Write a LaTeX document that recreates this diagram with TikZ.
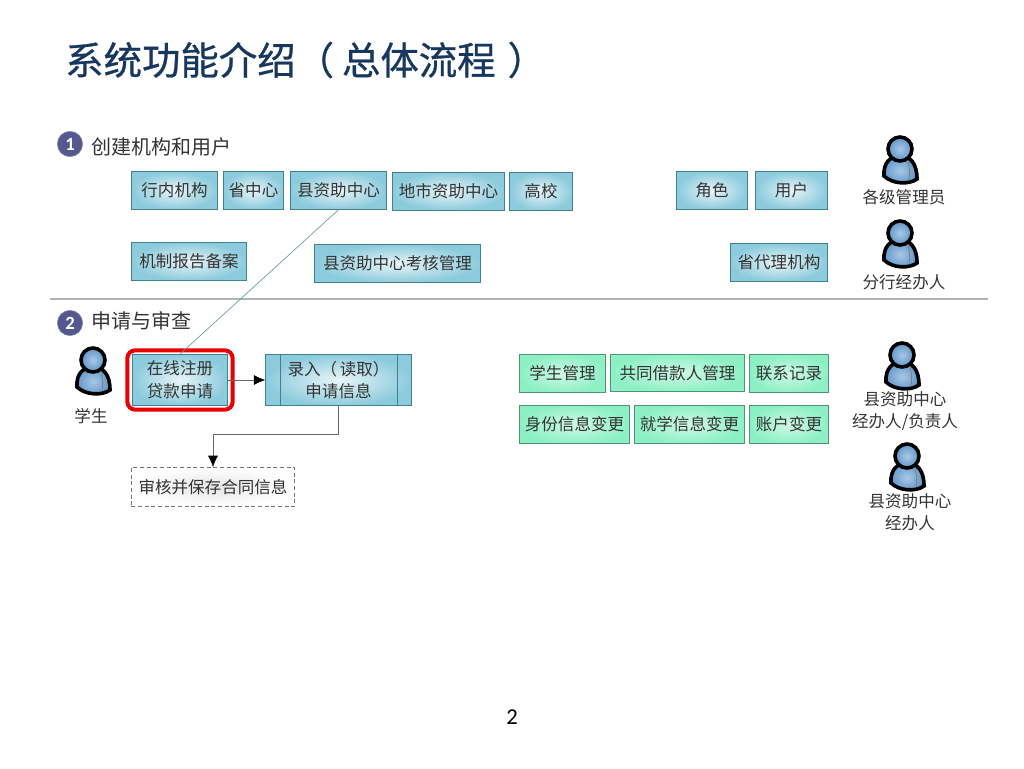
\documentclass[tikz,border=0pt]{standalone}
\usepackage{fontspec}
\setmainfont[Kerning=Off]{Noto Sans CJK SC}
\newfontfamily\titlefont[Kerning=Off,FakeBold=0.7]{Noto Sans CJK SC}
\newfontfamily\numfont{Carlito}
\usetikzlibrary{arrows.meta}
\definecolor{titleblue}{HTML}{17375E}
\definecolor{labelgrey}{HTML}{333333}
\definecolor{bluefill}{HTML}{8CCBDC}
\definecolor{blueedge}{HTML}{41808F}
\definecolor{greenfill}{HTML}{8CF0C4}
\definecolor{greenedge}{HTML}{4F9477}
\definecolor{badgeblue}{HTML}{55588F}
\definecolor{personin}{HTML}{A9C8E6}
\definecolor{personout}{HTML}{5F95C8}
\tikzset{
 bluebox/.style={draw=blueedge,shading=radial,inner color=white!80!bluefill,outer color=bluefill,
  inner sep=0pt,text=labelgrey,font=\fontsize{12.4}{17}\selectfont,align=center},
 greenbox/.style={bluebox,draw=greenedge,inner color=white!60!greenfill,outer color=greenfill},
 badge/.style={circle,fill=badgeblue,draw=badgeblue!70,text=white,minimum size=19pt,inner sep=0pt,
  font=\numfont\bfseries\fontsize{14}{14}\selectfont},
 heading/.style={anchor=west,inner sep=0pt,text=labelgrey,font=\fontsize{15}{18}\selectfont},
 rolelabel/.style={inner sep=0pt,text=labelgrey,align=center,font=\fontsize{12.4}{16.5}\selectfont},
 flow/.style={draw=black!60,-{Latex[black,length=8.5pt,width=7.5pt]}},
 person/.pic={
  \draw[line width=2.7pt,inner color=personin,outer color=personout,shading=radial]
   (-16,16) .. controls (-17,2) and (-9,-4) .. (0,-4) .. controls (10,-4) and (17,3) .. (17,19)
   .. controls (9,25) and (-8,24) .. (-16,16) -- cycle;
  \draw[line width=2.7pt,inner color=personin,outer color=personout,shading=radial]
   (0,-11) circle (12);
  \draw[black!50,line width=.6pt] (8,2) .. controls (10,8) and (10,14) .. (9,20);
 }
}
\begin{document}
\begin{tikzpicture}[x=0.75pt,y=-0.75pt]
\useasboundingbox (0,0) rectangle (1024,768);

\node[anchor=west,inner sep=0pt,text=titleblue,font=\titlefont\fontsize{28.8}{32}\selectfont] (title) at (65,60) {系统功能介绍（\kern6pt 总体流程\kern9pt ）};
\node[inner sep=0pt,font=\numfont\fontsize{17}{20}\selectfont] (pageno) at (512,717) {2};
%
\node[badge] (badgeone) at (70,144) {1};
\node[heading] (headone) at (91,147) {创建机构和用户};
\node[badge] (badgetwo) at (70,323) {2};
\node[heading] (headtwo) at (91,321) {申请与审查};
%
\coordinate (ruleleft) at (50,299);
\coordinate (ruleright) at (988,299);
\draw[black!30,line width=.9pt] (ruleleft) -- (ruleright);
%
\foreach \n/\xa/\xb/\ya/\yb/\t in {
 inner/131/218/171/210/行内机构,province/223/284/171/210/省中心,county/290/387/171/210/县资助中心,
 city/392/505/172/211/地市资助中心,college/509/573/172/211/高校,role/676/748/171/210/角色,
 user/755/828/171/210/用户,report/131/247/242/281/机制报告备案,
 assess/314/481/244/283/县资助中心考核管理,agency/730/828/243/282/省代理机构}
 {\node[bluebox,minimum width=(\xb-\xa-1)*0.75pt,minimum height=(\yb-\ya-1)*0.75pt] (\n) at ({(\xa+\xb)/2},{(\ya+\yb)/2}) {\t};}
%
\foreach \n/\xa/\xb/\ya/\yb/\t in {
 student/519/606/354/393/学生管理,coborrow/610/745/354/392/共同借款人管理,contact/749/829/354/393/联系记录,
 identity/519/630/405/444/身份信息变更,school/634/745/405/444/就学信息变更,account/749/829/405/444/账户变更}
 {\node[greenbox,minimum width=(\xb-\xa-1)*0.75pt,minimum height=(\yb-\ya-1)*0.75pt] (\n) at ({(\xa+\xb)/2},{(\ya+\yb)/2}) {\t};}
%
\node[bluebox,minimum width=71pt,minimum height=38.5pt] (online) at (180,380) {在线注册\\贷款申请};
\node[draw=red!92!black,line width=3pt,rounded corners=6pt,minimum width=79pt,minimum height=44.5pt] (mark) at (180,380) {};
\node[bluebox,minimum width=109.5pt,minimum height=38.5pt] (input) at (338.5,380) {录入（\kern2pt 读取）\\申请信息};
\draw[blueedge] (input.north west) ++(15,0) coordinate (ia) -- (ia |- input.south);
\draw[blueedge] (input.north east) ++(-15,0) coordinate (ib) -- (ib |- input.south);
\node[draw=black!55,densely dashed,shading=radial,inner color=black!10,outer color=white,inner sep=0pt,
 minimum width=122.5pt,minimum height=29.5pt,text=labelgrey,font=\fontsize{12.4}{17}\selectfont] (audit) at (213,487) {审核并保存合同信息};
%
\draw[blueedge!80,line width=.5pt] (county.south) -- (online.north);
\draw[flow] (online.east) -- (input.west);
\draw[flow] (input.south) -- ++(0,28) -| (audit.north);
%
\pic at (93,371) {person};
\pic at (900,160) {person};
\pic at (900,244) {person};
\pic at (902,366) {person};
\pic at (907,467) {person};
\node[rolelabel] (lstudent) at (91,416) {学生};
\node[rolelabel] (ladmin) at (904,197) {各级管理员};
\node[rolelabel] (lbranch) at (904,282) {分行经办人};
\node[rolelabel] (lhead) at (905,411) {县资助中心\\经办人/负责人};
\node[rolelabel] (lclerk) at (910,512) {县资助中心\\经办人};
\end{tikzpicture}
\end{document}
